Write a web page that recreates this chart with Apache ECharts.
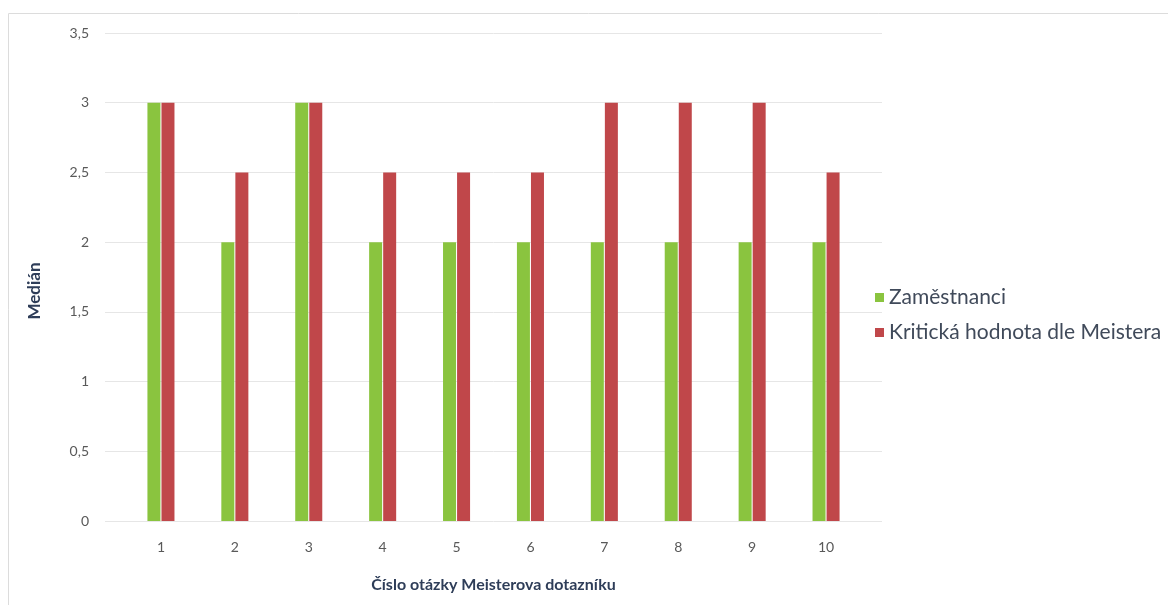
<!DOCTYPE html>
<html>
<head>
<meta charset="utf-8">
<script src="https://cdn.jsdelivr.net/npm/echarts@6/dist/echarts.min.js"></script>
<style>
  html, body { margin: 0; padding: 0; background: #fff; }
  #chart { width: 1168px; height: 605px; }
</style>
</head>
<body>
<div id="chart"></div>
<script>
// data
var categories = ['1', '2', '3', '4', '5', '6', '7', '8', '9', '10'];
var zamestnanci = [3, 2, 3, 2, 2, 2, 2, 2, 2, 2];
var kriticka = [3, 2.5, 3, 2.5, 2.5, 2.5, 3, 3, 3, 2.5];
var seriesNames = ['Zaměstnanci', 'Kritická hodnota dle Meistera'];

var chart = echarts.init(document.getElementById('chart'));
var font = 'Lato, "Open Sans", sans-serif';

var option = {
    graphic: [{
        type: 'rect',
        shape: { x: 8.5, y: 13.5, width: 1170, height: 600 },
        style: { fill: 'none', stroke: '#dcdcdc', lineWidth: 1 },
        silent: true
    }],
    legend: {
        orient: 'vertical',
        left: 870,
        top: 282,
        itemWidth: 9,
        itemHeight: 9,
        itemGap: 14,
        icon: 'rect',
        textStyle: { color: '#404a5a', fontSize: 21, fontFamily: font },
        data: seriesNames
    },
    grid: [
        // background grid: gridlines + y labels
        { left: 105, right: 286, top: 33, bottom: 84 },
        // bars
        { left: 124, right: 305, top: 33, bottom: 84 }
    ],
    xAxis: [{
        gridIndex: 0,
        type: 'category',
        data: categories,
        axisLine: { show: false },
        axisTick: { show: false },
        axisLabel: { show: false }
    }, {
        gridIndex: 1,
        type: 'category',
        data: categories,
        axisLine: { show: false },
        axisTick: { show: false },
        axisLabel: { color: '#595959', fontSize: 14, margin: 19, fontFamily: font },
        name: 'Číslo otázky Meisterova dotazníku',
        nameLocation: 'middle',
        nameGap: 56,
        nameTextStyle: { color: '#2e3d58', fontSize: 16, fontWeight: 'bold', fontFamily: font }
    }],
    yAxis: [{
        gridIndex: 0,
        type: 'value',
        min: 0,
        max: 3.5,
        interval: 0.5,
        axisLine: { show: false },
        axisTick: { show: false },
        splitLine: { lineStyle: { color: '#e6e6e6' } },
        axisLabel: {
            color: '#595959', fontSize: 14, margin: 16, fontFamily: font,
            formatter: function (v) { return String(v).replace('.', ','); }
        },
        name: 'Medián',
        nameLocation: 'middle',
        nameGap: 62,
        nameRotate: 90,
        nameTextStyle: { color: '#2e3d58', fontSize: 17, fontWeight: 'bold', fontFamily: font, padding: [0, 28, 0, 0] }
    }, {
        gridIndex: 1,
        type: 'value',
        min: 0,
        max: 3.5,
        interval: 0.5,
        show: false,
        splitLine: { show: false }
    }],
    series: [{
        name: seriesNames[0],
        type: 'bar',
        xAxisIndex: 1,
        yAxisIndex: 1,
        barWidth: 13,
        barGap: '8%',
        itemStyle: { color: '#8ac43f' },
        data: zamestnanci
    }, {
        name: seriesNames[1],
        type: 'bar',
        xAxisIndex: 1,
        yAxisIndex: 1,
        barWidth: 13,
        barGap: '8%',
        itemStyle: { color: '#c0474a' },
        data: kriticka
    }]
};
chart.setOption(option);
</script>
</body>
</html>
